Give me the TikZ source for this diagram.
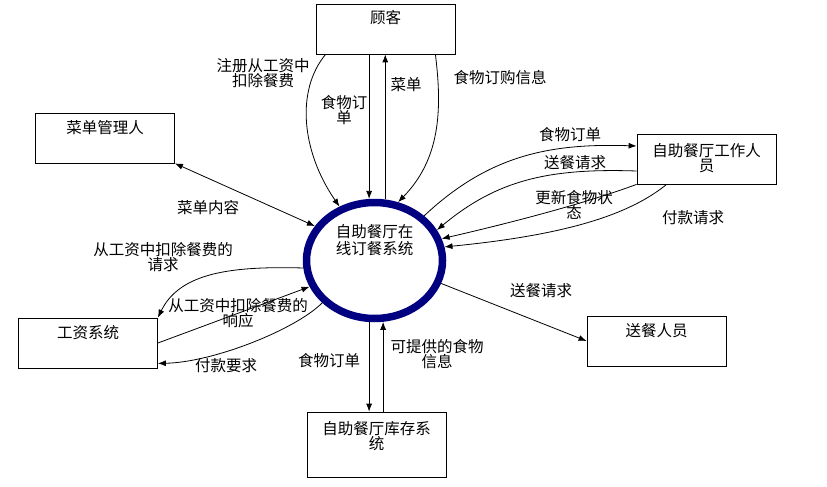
\documentclass[tikz,border=0pt]{standalone}
\usepackage{fontspec}
\setmainfont{Noto Sans CJK SC}
\usetikzlibrary{arrows.meta,shapes.geometric}
\definecolor{navy}{RGB}{0,0,128}

\begin{document}
\begin{tikzpicture}
	[
		x=1pt,
		y=-1pt,
		font=\fontsize{15.5}{15}\selectfont,
		entity/.style={draw, line width=0.8pt, minimum width=139pt, inner ysep=0pt, text height=20pt, text depth=30pt, align=center},
		process/.style={ellipse, draw=navy, line width=7.5pt, minimum width=136pt, minimum height=116pt, inner sep=0pt, text width=80pt, align=center, text height=12pt, text depth=59pt, font=\fontsize{15.5}{17.5}\selectfont},
		flow/.style={line width=0.8pt, -{Latex[length=8pt,width=6pt]}},
		dflow/.style={line width=0.8pt, {Latex[length=8pt,width=6pt]}-{Latex[length=8pt,width=6pt]}},
		tag/.style={align=center, inner sep=0pt}
	]
	\useasboundingbox (0,0) rectangle (827,487);
	% Entities
	\foreach \name/\pos/\txt in {guke/{(385.5,29)}/顾客, caidan/{(105,138)}/菜单管理人, gongzi/{(88,343)}/工资系统, delivery/{(656.5,341)}/送餐人员} {
			\node[entity] (\name) at \pos {\txt};
		}
	\node[entity, text height=37pt, text depth=13pt] (worker) at (706.5,159) {自助餐厅工作人\\员};
	\node[entity, text height=37pt, text depth=28pt] (kucun) at (376.5,444.5) {自助餐厅库存系\\统};
	% System
	\node[process] (sys) at (374.5,260.5) {自助餐厅在\\线订餐系统};
	% Customer flows
	\draw[flow] ([xshift=10pt]guke.south west) .. controls +(-30,36) and +(-38,-55) .. (sys.123);
	\draw[flow] (sys.95 |- guke.south) -- (sys.95);
	\draw[flow] (sys.80) -- (sys.80 |- guke.south);
	\draw[flow] ([xshift=-20pt]guke.south east) .. controls +(7,56) and +(42,-43) .. (sys.68);
	\draw[dflow] (caidan.south east) -- (sys.150);
	% Payroll flows
	\draw[flow] (sys.186) .. controls +(-72,-2) and +(22,-45) .. (gongzi.north east);
	\draw[flow] (gongzi.east) -- (sys.202);
	\draw[flow] (sys.219) .. controls +(-27,27) and +(55,-1) .. ([yshift=5pt]gongzi.south east);
	% Staff flows
	\draw[flow] (sys.42) .. controls +(64,-60) and +(-88,-3) .. ([yshift=13pt]worker.west);
	\draw[flow] ([yshift=-12pt]worker.west) .. controls +(-88,-3) and +(60,-50) .. (sys.26);
	\draw[flow] (worker.south west) .. controls +(-57,21) and +(57,-13) .. (sys.18);
	\draw[flow] ([xshift=30pt]worker.south west) .. controls +(-37,30) and +(123,-12) .. (sys.11);
	% Delivery and inventory
	\draw[flow] (sys.-19) -- (delivery.west);
	\draw[flow] (sys.265) -- (sys.265 |- kucun.north);
	\draw[flow] (sys.278 |- kucun.north) -- (sys.278);
	% Labels
	\node[tag] (lreg) at (263,73) {注册从工资中\\扣除餐费};
	\node[tag] (lorder) at (344,110) {食物订\\单};
	\node[tag] (lmenu) at (406,85) {菜单};
	\node[tag] (linfo) at (500,78) {食物订购信息};
	\node[tag] (lcontent) at (208,208) {菜单内容};
	\node[tag] (ldeduct) at (163,257) {从工资中扣除餐费的\\请求};
	\node[tag] (lreply) at (238,313) {从工资中扣除餐费的\\响应};
	\node[tag] (lpayreq) at (226,366) {付款要求};
	\node[tag] (lstaffo) at (570,135) {食物订单};
	\node[tag] (lsend) at (575,163) {送餐请求};
	\node[tag] (lupdate) at (574,205) {更新食物状\\态};
	\node[tag] (lpay) at (693,218) {付款请求};
	\node[tag] (ldeliv) at (541,291) {送餐请求};
	\node[tag] (lstock) at (329,361) {食物订单};
	\node[tag] (lavail) at (437,354) {可提供的食物\\信息};
\end{tikzpicture}
\end{document}
